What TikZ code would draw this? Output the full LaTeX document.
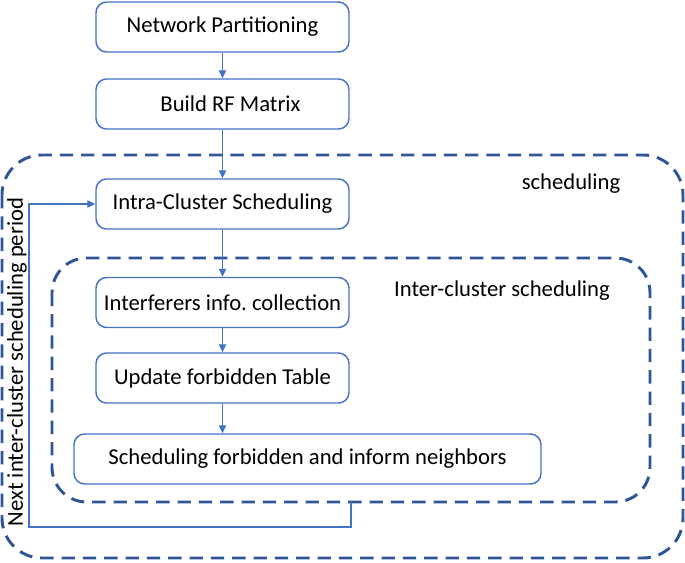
\documentclass[tikz,border=0pt]{standalone}
\usepackage{fontspec}
\setmainfont{Carlito}
\usetikzlibrary{positioning, calc, arrows.meta}

\definecolor{boxblue}{HTML}{4472C4}
\definecolor{dashblue}{HTML}{2F5597}

\tikzset{
    stage/.style = {draw = boxblue, line width = 1.1pt, rounded corners = 8pt,
        minimum width = 189.75pt, minimum height = 37.5pt, inner sep = 0pt,
        font = \fontsize{17}{20}\selectfont},
    region/.style = {draw = dashblue, line width = 2.2pt, dash pattern = on 10pt off 6pt},
    flow/.style = {draw = boxblue, line width = 0.9pt, -{Triangle[length=6pt, width=5.5pt]}},
    tag/.style = {font = \fontsize{17}{20}\selectfont}
}

\begin{document}
\begin{tikzpicture}[x = 0.75pt, y = -0.75pt]

\useasboundingbox (0,0) rectangle (685,563);

%dashed regions
        \draw[region, rounded corners = 30pt] (2,155) rectangle (683,558);
        \draw[region, rounded corners = 26pt] (52,258) rectangle (650,502);
        \coordinate (inB) at (351,502);
        \node[tag] (sched) at (571,184) {scheduling};
        \node[tag] (inter) at (502,291) {Inter-cluster scheduling};

%stages
        \node[stage] (part) at (222.5,27) {Network Partitioning};
        \node[stage] (rf) at (222.5,104) {\hspace{12pt}Build RF Matrix};
        \node[stage] (intra) at (222.5,204) {Intra-Cluster Scheduling};
        \node[stage] (info) at (222.5,302.5) {Interferers info.\ collection};
        \node[stage] (upd) at (222.5,378) {Update forbidden Table\hspace{4pt}};
        \node[stage, minimum width = 350.25pt] (inform) at (307.5,459) {Scheduling forbidden and inform neighbors};

%connectors
        \draw[flow] (part) -- (rf);
        \draw[flow] (rf) -- (intra);
        \draw[flow] (intra) -- (info);
        \draw[flow] (info) -- (upd);
        \draw[flow] (upd.south) -- (upd.south |- inform.north);

%feedback loop
        \coordinate (turnA) at (351,527);
        \coordinate (turnB) at (29,527);
        \draw[flow] (inB) -- (turnA) -- (turnB) |- (intra.west);
        \node[tag, rotate = 90] (period) at (17,362) {Next inter-cluster scheduling period};
\end{tikzpicture}
\end{document}
